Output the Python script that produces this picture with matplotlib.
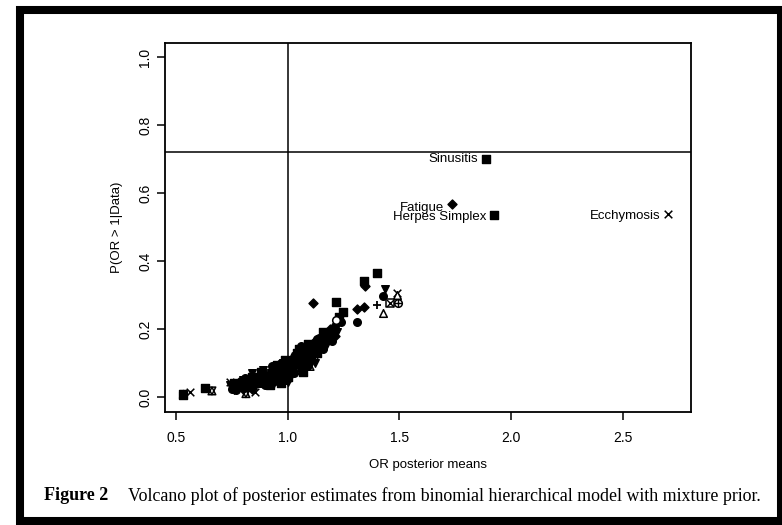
import matplotlib.pyplot as plt
from matplotlib.patches import Rectangle

plt.rcParams['font.family'] = ['Liberation Sans', 'DejaVu Sans']

# posterior OR means (x) and P(OR > 1 | Data) (y), grouped by plotting symbol
sq_x = [1.887, 1.923, 1.216, 1.399, 1.34, 1.247, 0.630, 0.533,
        0.78, 0.86, 0.93, 0.97, 1.01, 1.06, 1.12, 1.17, 1.20, 0.90, 0.84, 1.00, 1.04, 1.08,
        0.82, 0.88, 0.95, 0.99, 1.02, 1.05, 1.09, 1.13, 1.16, 1.23, 0.76, 0.92, 0.97, 1.07]
sq_y = [0.700, 0.535, 0.280, 0.365, 0.340, 0.250, 0.026, 0.006,
        0.035, 0.050, 0.070, 0.085, 0.100, 0.120, 0.150, 0.180, 0.190, 0.045, 0.060, 0.060, 0.130, 0.100,
        0.050, 0.075, 0.095, 0.110, 0.090, 0.140, 0.155, 0.130, 0.190, 0.235, 0.040, 0.035, 0.040, 0.075]

dm_x = [1.735, 1.113, 1.345, 1.31, 1.34,
        0.76, 0.82, 0.88, 0.95, 0.99, 1.03, 1.09, 1.14, 1.19, 0.80, 0.92, 1.02, 1.11,
        0.78, 0.84, 0.90, 0.94, 0.98, 1.01, 1.05, 1.08, 1.12, 1.17, 1.21]
dm_y = [0.568, 0.276, 0.327, 0.260, 0.265,
        0.030, 0.040, 0.055, 0.060, 0.080, 0.090, 0.140, 0.160, 0.200, 0.025, 0.050, 0.110, 0.120,
        0.045, 0.025, 0.060, 0.085, 0.055, 0.085, 0.115, 0.125, 0.165, 0.165, 0.180]

ci_x = [1.31, 1.426,
        0.75, 0.79, 0.83, 0.87, 0.91, 0.94, 0.98, 1.00, 1.03, 1.05, 1.07, 1.10, 1.13, 1.16, 1.21, 1.24, 0.96, 0.89,
        0.77, 0.81, 0.86, 0.90, 0.93, 0.97, 1.02, 1.04, 1.06, 1.09, 1.11, 1.14, 1.18, 1.20]
ci_y = [0.220, 0.297,
        0.025, 0.045, 0.030, 0.040, 0.065, 0.050, 0.070, 0.090, 0.070, 0.100, 0.130, 0.110, 0.170, 0.140, 0.210, 0.220, 0.045, 0.070,
        0.020, 0.055, 0.060, 0.035, 0.090, 0.100, 0.100, 0.120, 0.150, 0.095, 0.140, 0.175, 0.190, 0.165]

tu_x = [0.77, 0.81, 0.85, 0.89, 0.93, 0.96, 0.99, 1.01, 1.04, 1.06, 1.09, 1.12, 1.15, 1.18, 0.87, 1.02,
        0.79, 0.83, 0.88, 0.92, 0.95, 0.98, 1.00, 1.03, 1.07, 1.10, 1.13, 1.16]
tu_y = [0.040, 0.030, 0.045, 0.050, 0.060, 0.075, 0.050, 0.075, 0.100, 0.090, 0.120, 0.135, 0.160, 0.170, 0.065, 0.120,
        0.035, 0.050, 0.040, 0.070, 0.055, 0.085, 0.105, 0.080, 0.140, 0.130, 0.150, 0.175]

td_x = [1.435, 0.74, 0.80, 0.86, 0.91, 0.95, 0.98, 1.00, 1.03, 1.07, 1.10, 1.14, 1.17, 1.22,
        0.76, 0.84, 0.89, 0.94, 0.96, 0.99, 1.01, 1.05, 1.08, 1.12, 1.19]
td_y = [0.318, 0.035, 0.050, 0.035, 0.040, 0.080, 0.100, 0.045, 0.110, 0.110, 0.155, 0.140, 0.150, 0.190,
        0.020, 0.070, 0.080, 0.040, 0.065, 0.095, 0.055, 0.090, 0.110, 0.100, 0.175]

cross_x = [2.701, 1.489, 0.563, 0.853, 0.74, 0.97, 1.05]
cross_y = [0.538, 0.306, 0.015, 0.015, 0.045, 0.060, 0.080]

plus_x = [1.40, 0.92, 1.01]
plus_y = [0.270, 0.080, 0.065]

otri_x = [1.426, 1.489]
otri_y = [0.246, 0.300]

ocirc_x = [1.216]
ocirc_y = [0.226]

# circle with plus, square with cross
cplus_x, cplus_y = [1.493], [0.276]
sqx_x, sqx_y = [1.457], [0.276]

# star of David (up + down open triangles)
star_x = [0.533, 0.661, 0.813, 1.10, 1.12]
star_y = [0.008, 0.018, 0.010, 0.090, 0.120]

labels = ['Sinusitis', 'Fatigue', 'Herpes Simplex', 'Ecchymosis']
lab_x = [1.887, 1.735, 1.923, 2.701]
lab_y = [0.700, 0.568, 0.535, 0.538]
lab_dy = [0.0, -0.012, -0.005, -0.005]

fig = plt.figure(figsize=(7.82, 5.25), dpi=100)
ax = fig.add_axes([165 / 782, 113 / 525, 526 / 782, 369 / 525])

ms = 30
ax.scatter(sq_x, sq_y, marker='s', s=ms, c='black', zorder=3)
ax.scatter(dm_x, dm_y, marker='D', s=ms * 0.7, c='black', zorder=3)
ax.scatter(ci_x, ci_y, marker='o', s=ms, c='black', zorder=3)
ax.scatter(tu_x, tu_y, marker='^', s=ms, c='black', zorder=3)
ax.scatter(td_x, td_y, marker='v', s=ms, c='black', zorder=3)
ax.scatter(cross_x, cross_y, marker='x', s=ms, c='black', linewidths=1.1, zorder=3)
ax.scatter(plus_x, plus_y, marker='+', s=ms * 1.3, c='black', linewidths=1.3, zorder=3)
ax.scatter(otri_x, otri_y, marker='^', s=ms, facecolors='white', edgecolors='black', linewidths=1.1, zorder=3)
ax.scatter(ocirc_x, ocirc_y, marker='o', s=ms, facecolors='white', edgecolors='black', linewidths=1.1, zorder=3)
ax.scatter(cplus_x, cplus_y, marker='o', s=ms, facecolors='white', edgecolors='black', linewidths=1.1, zorder=3)
ax.scatter(cplus_x, cplus_y, marker='+', s=ms, c='black', linewidths=1.0, zorder=4)
ax.scatter(sqx_x, sqx_y, marker='s', s=ms, facecolors='white', edgecolors='black', linewidths=1.1, zorder=3)
ax.scatter(sqx_x, sqx_y, marker='x', s=ms * 0.8, c='black', linewidths=1.0, zorder=4)
ax.scatter(star_x, star_y, marker='^', s=ms, facecolors='none', edgecolors='black', linewidths=1.1, zorder=4)
ax.scatter(star_x, star_y, marker='v', s=ms, facecolors='none', edgecolors='black', linewidths=1.1, zorder=4)

for t, x, y, dy in zip(labels, lab_x, lab_y, lab_dy):
    ax.text(x - 0.035, y + dy, t, ha='right', va='center', fontsize=9.5)

ax.axhline(0.72, color='black', lw=1.1, zorder=2)
ax.axvline(1.0, color='black', lw=1.1, zorder=2)

ax.set_xlim(0.451, 2.804)
ax.set_ylim(-0.044, 1.041)
ax.set_xticks([0.5, 1.0, 1.5, 2.0, 2.5])
ax.set_yticks([0.0, 0.2, 0.4, 0.6, 0.8, 1.0])
ax.set_xticklabels(['0.5', '1.0', '1.5', '2.0', '2.5'])
ax.set_yticklabels(['0.0', '0.2', '0.4', '0.6', '0.8', '1.0'], rotation=90, va='center')
ax.tick_params(direction='out', length=6, width=1.1, labelsize=10)
ax.tick_params(axis='x', pad=8)
ax.tick_params(axis='y', pad=3)
for s in ax.spines.values():
    s.set_linewidth(1.3)

ax.set_xlabel('OR posterior means', fontsize=9.5, labelpad=10)
ax.set_ylabel('P(OR > 1|Data)', fontsize=9.5, labelpad=11)

# caption
fig.text(44 / 782, 1 - 496 / 525, 'Figure 2', family=['Liberation Serif'], fontweight='bold',
         fontsize=13, va='center')
fig.text(128 / 782, 1 - 496 / 525,
         'Volcano plot of posterior estimates from binomial hierarchical model with mixture prior.',
         family=['Liberation Serif'], fontsize=12.9, va='center')

# black frame around the figure
fig.patches.append(Rectangle((20 / 782, 4 / 525), 761 / 782, 511 / 525, transform=fig.transFigure,
                             fill=False, edgecolor='black', linewidth=5.8, zorder=10))

fig.savefig('out.png', dpi=100)
